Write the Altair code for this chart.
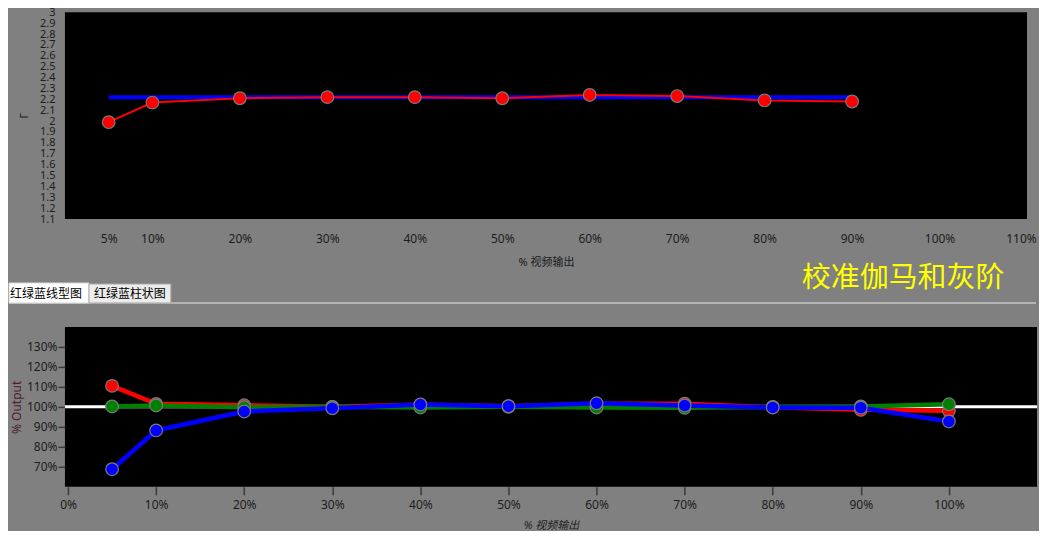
import altair as alt
import pandas as pd

FONT = "Noto Sans, Noto Sans CJK SC, sans-serif"
CJK = "Noto Sans CJK SC, sans-serif"

# ---------------- top panel: gamma ----------------
gamma_levels = [5, 10, 20, 30, 40, 50, 60, 70, 80, 90]
gamma_measured = [1.99, 2.17, 2.21, 2.22, 2.22, 2.21, 2.24, 2.23, 2.19, 2.18]
gamma_target = [2.22, 2.22, 2.22, 2.22, 2.22, 2.22, 2.22, 2.22, 2.22, 2.22]
gamma_x_ticks = [5, 10, 20, 30, 40, 50, 60, 70, 80, 90, 100, 110]
gamma_y_ticks = [1.1, 1.2, 1.3, 1.4, 1.5, 1.6, 1.7, 1.8, 1.9, 2.0,
                 2.1, 2.2, 2.3, 2.4, 2.5, 2.6, 2.7, 2.8, 2.9, 3.0]

# ---------------- bottom panel: RGB balance ----------------
rgb_levels = [5, 10, 20, 30, 40, 50, 60, 70, 80, 90, 100]
red_pct = [110.5, 101.5, 100.8, 100.0, 101.0, 100.3, 101.5, 101.6, 99.8, 98.5, 98.0]
green_pct = [100.2, 100.7, 99.8, 100.0, 99.7, 100.0, 99.7, 99.5, 100.0, 100.2, 101.3]
blue_pct = [68.8, 88.2, 97.7, 99.3, 101.2, 100.3, 101.8, 100.7, 99.7, 99.6, 92.7]
rgb_x_ticks = [0, 10, 20, 30, 40, 50, 60, 70, 80, 90, 100]
rgb_y_ticks = [70, 80, 90, 100, 110, 120, 130]
reference_pct = [100]

tab_labels = ["红绿蓝线型图", "红绿蓝柱状图"]
panel_title = "校准伽马和灰阶"
x_title = "% 视频输出"

# ---------------- top chart ----------------
top_df = pd.DataFrame({"level": gamma_levels, "gamma": gamma_measured, "target": gamma_target})

x_top = alt.X(
    "level:Q",
    scale=alt.Scale(domain=[0, 110], nice=False, zero=False),
    axis=alt.Axis(values=gamma_x_ticks, labelExpr="datum.value + '%'", ticks=False,
                  labelPadding=14, labelFontSize=12, labelFlush=False, labelOverlap=False,
                  labelOffset={"condition": {"test": "datum.value === 110", "value": -6},
                               "value": 0},
                  title=x_title, titleFontSize=11, titlePadding=12),
)


def y_top(field):
    return alt.Y(
        field,
        scale=alt.Scale(domain=[1.1, 3.0], nice=False, zero=False),
        axis=alt.Axis(values=gamma_y_ticks, format="~g", ticks=False, labelPadding=10,
                      labelFontSize=11, labelOverlap=False, labelFlush=False,
                      title="Γ", titleFontSize=11, titleX=-40, titleY=103,
                      titleBaseline="middle"),
    )


top_target = alt.Chart(top_df).mark_line(color="#0000ff", strokeWidth=4).encode(
    x=x_top, y=y_top("target:Q"))
top_line = alt.Chart(top_df).mark_line(color="#ff0000", strokeWidth=2).encode(
    x=x_top, y=y_top("gamma:Q"))
top_pts = alt.Chart(top_df).mark_circle(size=160, fill="#ff0000", stroke="#7a7a7a",
                                        strokeWidth=1.2, opacity=1).encode(
    x=x_top, y=y_top("gamma:Q"))

top = alt.layer(top_target, top_line, top_pts).properties(width=963, height=207)

# ---------------- bottom chart ----------------
bot_df = pd.DataFrame({"level": rgb_levels, "red": red_pct, "green": green_pct, "blue": blue_pct})
ref_df = pd.DataFrame({"ref": reference_pct})
one = pd.DataFrame({"k": [0]})

x_bot = alt.X(
    "level:Q",
    scale=alt.Scale(domain=[-0.35, 110], nice=False, zero=False),
    axis=alt.Axis(values=rgb_x_ticks, labelExpr="datum.value + '%'", tickSize=8,
                  tickColor="#3a3a3a", tickWidth=1.5, labelPadding=5, labelFontSize=12,
                  labelFlush=False, labelOverlap=False,
                  title=x_title, titleFontStyle="italic", titleFontSize=11, titlePadding=9),
)


def y_bot(field):
    return alt.Y(
        field,
        scale=alt.Scale(domain=[60, 140], nice=False, zero=False),
        axis=alt.Axis(values=rgb_y_ticks, labelExpr="datum.value + '%'", tickSize=7,
                      tickColor="#3a3a3a", tickWidth=1.5, labelPadding=1, labelFontSize=12,
                      labelOverlap=False, labelFlush=False,
                      title="% Output", titleColor="#4a1c2c", titleFontSize=12,
                      titleX=-48, titleY=80, titleBaseline="middle"),
    )


layers = [
    alt.Chart(one).mark_rule(color="#c4c4c4", strokeWidth=1.5).encode(
        x=alt.value(-56), x2=alt.value(972), y=alt.value(-24)),
    alt.Chart(one).mark_rect(fill="#ffffff", stroke="#d8d8d8", strokeWidth=1).encode(
        x=alt.value(-56), x2=alt.value(24), y=alt.value(-44), y2=alt.value(-24)),
    alt.Chart(one).mark_rect(fill="#ececec", stroke="#a8a8a8", strokeWidth=1).encode(
        x=alt.value(24), x2=alt.value(106), y=alt.value(-43), y2=alt.value(-24)),
    alt.Chart(one).mark_text(text=tab_labels[0], font=CJK, fontSize=12, color="#000000",
                             align="center", baseline="middle").encode(
        x=alt.value(-19), y=alt.value(-33)),
    alt.Chart(one).mark_text(text=tab_labels[1], font=CJK, fontSize=12, color="#000000",
                             align="center", baseline="middle").encode(
        x=alt.value(65), y=alt.value(-33)),
    alt.Chart(one).mark_text(text=panel_title, font=CJK, fontSize=29, color="#ffff00",
                             align="center", baseline="middle").encode(
        x=alt.value(839), y=alt.value(-49)),
    alt.Chart(ref_df).mark_rule(color="#ffffff", strokeWidth=3).encode(y=y_bot("ref:Q")),
]

for field, col in [("red", "#ff0000"), ("green", "#008000"), ("blue", "#0000ff")]:
    layers.append(alt.Chart(bot_df).mark_line(color=col, strokeWidth=4.5).encode(
        x=x_bot, y=y_bot(f"{field}:Q")))
    layers.append(alt.Chart(bot_df).mark_circle(size=160, fill=col, stroke="#7a7a7a",
                                                strokeWidth=1.2, opacity=1).encode(
        x=x_bot, y=y_bot(f"{field}:Q")))

bottom = alt.layer(*layers).properties(width=973, height=160)

chart = (
    alt.vconcat(top, bottom, spacing=108, bounds="flush")
    .properties(padding={"left": 0, "top": -2, "right": 0, "bottom": 0})
    .configure(background="#808080", font=FONT)
    .configure_view(fill="#000000", strokeWidth=0)
    .configure_axis(labelColor="#1c1c1c", titleColor="#1c1c1c", labelFont=FONT,
                    titleFont=FONT, titleFontWeight="normal", grid=False, domain=False)
)

chart.save("out.html", embed_options={"renderer": "svg", "actions": False})
